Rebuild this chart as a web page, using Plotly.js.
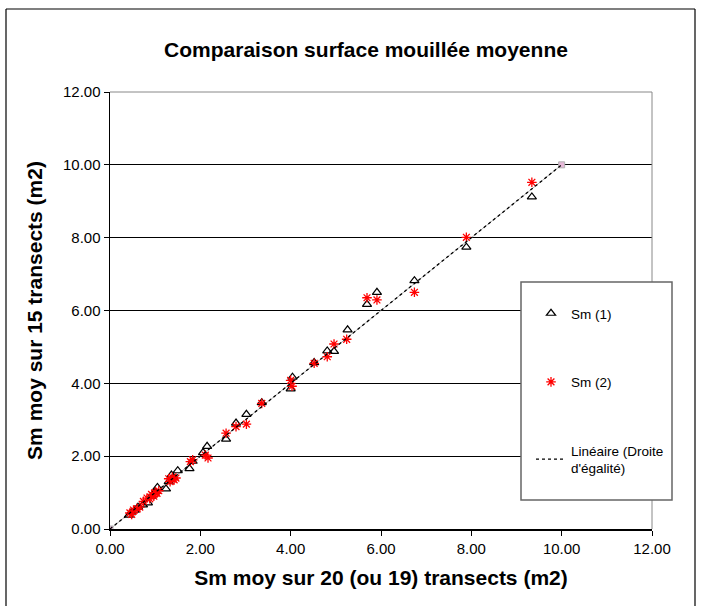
<!DOCTYPE html>
<html>
<head>
<meta charset="utf-8">
<script src="https://cdn.plot.ly/plotly-3.0.1.min.js"></script>
<style>html,body{margin:0;padding:0;background:#fff;}#chart{width:701px;height:607px;}</style>
</head>
<body>
<div id="chart"></div>
<script>
// Sm (1) — triangles
const sm1X = [0.42,0.47,0.55,0.62,0.73,0.84,0.92,1.00,1.05,1.24,1.30,1.36,1.40,1.50,1.76,1.83,2.06,2.15,2.57,2.79,3.02,3.36,4.00,4.04,4.52,4.81,4.96,5.26,5.69,5.91,6.74,7.89,9.34];
const sm1Y = [0.38,0.45,0.52,0.60,0.66,0.72,0.90,1.02,1.14,1.10,1.30,1.48,1.42,1.60,1.66,1.86,2.10,2.27,2.47,2.91,3.15,3.47,3.85,4.17,4.57,4.89,4.88,5.47,6.17,6.50,6.82,7.74,9.12];
// Sm (2) — asterisks
const sm2X = [0.44,0.48,0.52,0.60,0.66,0.74,0.82,0.88,0.92,0.97,1.00,1.04,1.08,1.30,1.33,1.38,1.42,1.46,1.78,1.83,2.11,2.17,2.57,2.79,3.02,3.36,4.00,4.03,4.52,4.81,4.96,5.24,5.69,5.91,6.74,7.89,9.34];
const sm2Y = [0.44,0.40,0.52,0.55,0.60,0.76,0.85,0.83,0.95,0.90,1.00,0.98,1.05,1.38,1.30,1.42,1.35,1.40,1.85,1.90,2.03,1.95,2.63,2.81,2.88,3.45,4.08,3.92,4.55,4.73,5.08,5.21,6.35,6.29,6.50,8.01,9.52];
// Droite d'égalité
const eqX = [0, 10];
const eqY = [0, 10];
const tickVals = [0, 2, 4, 6, 8, 10, 12];

// pixel helpers for frame decorations
const L = 110, R = 652, T = 92, B = 529;
const px = v => (v - L) / (R - L);
const py = v => (B - v) / (B - T);

const traces = [
  {x: eqX, y: eqY, mode: 'lines+markers', showlegend: false, hoverinfo: 'skip',
   line: {color: '#b0b0b0', width: 1}, marker: {symbol: 'square', size: 6, color: '#e6b8d8', line: {color: '#b0b0b0', width: 1}}},
  {x: sm1X, y: sm1Y, mode: 'markers', name: 'Sm (1)', legendgroup: 'a',
   marker: {symbol: 'triangle-up-open', size: 8, color: '#000', line: {color: '#000', width: 1.2}}},
  {x: sm2X, y: sm2Y, mode: 'markers', name: 'Sm (2)', legendgroup: 'b',
   marker: {symbol: 'asterisk-open', size: 8, color: '#ff0000', line: {color: '#ff0000', width: 1.3}}},
  {x: eqX, y: eqY, mode: 'lines', name: 'Linéaire (Droite<br>d\'égalité)', legendgroup: 'c',
   line: {color: '#000', width: 1.3, dash: '3px,3px'}}
];

const layout = {
  width: 701, height: 607,
  margin: {l: L, r: 701 - R, t: T, b: 607 - B, pad: 0},
  paper_bgcolor: '#fff', plot_bgcolor: '#fff',
  font: {family: 'Liberation Sans, Arial, sans-serif', color: '#000', size: 15},
  title: {text: '<b>Comparaison surface mouillée moyenne</b>', font: {size: 21, color: '#000'},
          x: 366 / 701, xanchor: 'center', y: 1 - 50 / 607, yanchor: 'middle', xref: 'container', yref: 'container'},
  xaxis: {range: [0, 12], tickvals: tickVals, tickformat: '.2f', showgrid: false, zeroline: false,
          showline: true, linecolor: '#000', linewidth: 1.5, ticks: 'outside', ticklen: 5, tickcolor: '#000',
          tickfont: {size: 15}, fixedrange: true,
          title: {text: '<b>Sm moy sur 20 (ou 19) transects (m2)</b>', font: {size: 21}, standoff: 15}},
  yaxis: {range: [0, 12], tickvals: tickVals, tickformat: '.2f', showgrid: true, gridcolor: '#000', gridwidth: 1,
          zeroline: false, showline: true, linecolor: '#000', linewidth: 1.5, ticks: 'outside', ticklen: 5, tickcolor: '#000',
          tickfont: {size: 15}, fixedrange: true,
          title: {text: '<b>Sm moy sur 15 transects (m2)</b>', font: {size: 21}, standoff: 14}},
  showlegend: true,
  legend: {x: px(531), y: py(298), xanchor: 'left', yanchor: 'top', bgcolor: 'rgba(0,0,0,0)', borderwidth: 0,
           font: {size: 13.5, color: '#000'}, traceorder: 'grouped', tracegroupgap: 48, itemwidth: 30},
  shapes: [
    // plot frame top/right (gray)
    {type: 'line', xref: 'paper', yref: 'paper', x0: 0, x1: 1, y0: 1, y1: 1, line: {color: '#888', width: 1}},
    {type: 'line', xref: 'paper', yref: 'paper', x0: 1, x1: 1, y0: 0, y1: 1, line: {color: '#888', width: 1}},
    // legend box
    {type: 'rect', xref: 'paper', yref: 'paper', x0: px(521), x1: px(672), y0: py(500), y1: py(282),
     line: {color: '#666', width: 1.5}, fillcolor: '#fff', layer: 'above', opacity: 1},
    // outer chart border
    {type: 'line', xref: 'paper', yref: 'paper', x0: px(6), x1: px(6), y0: py(606), y1: py(9), line: {color: '#000', width: 1.2}},
    {type: 'line', xref: 'paper', yref: 'paper', x0: px(6), x1: px(695), y0: py(9), y1: py(9), line: {color: '#000', width: 1.2}},
    {type: 'line', xref: 'paper', yref: 'paper', x0: px(695), x1: px(695), y0: py(606), y1: py(9), line: {color: '#000', width: 1.2}}
  ]
};

Plotly.newPlot('chart', traces, layout, {staticPlot: true, displayModeBar: false});
</script>
</body>
</html>
